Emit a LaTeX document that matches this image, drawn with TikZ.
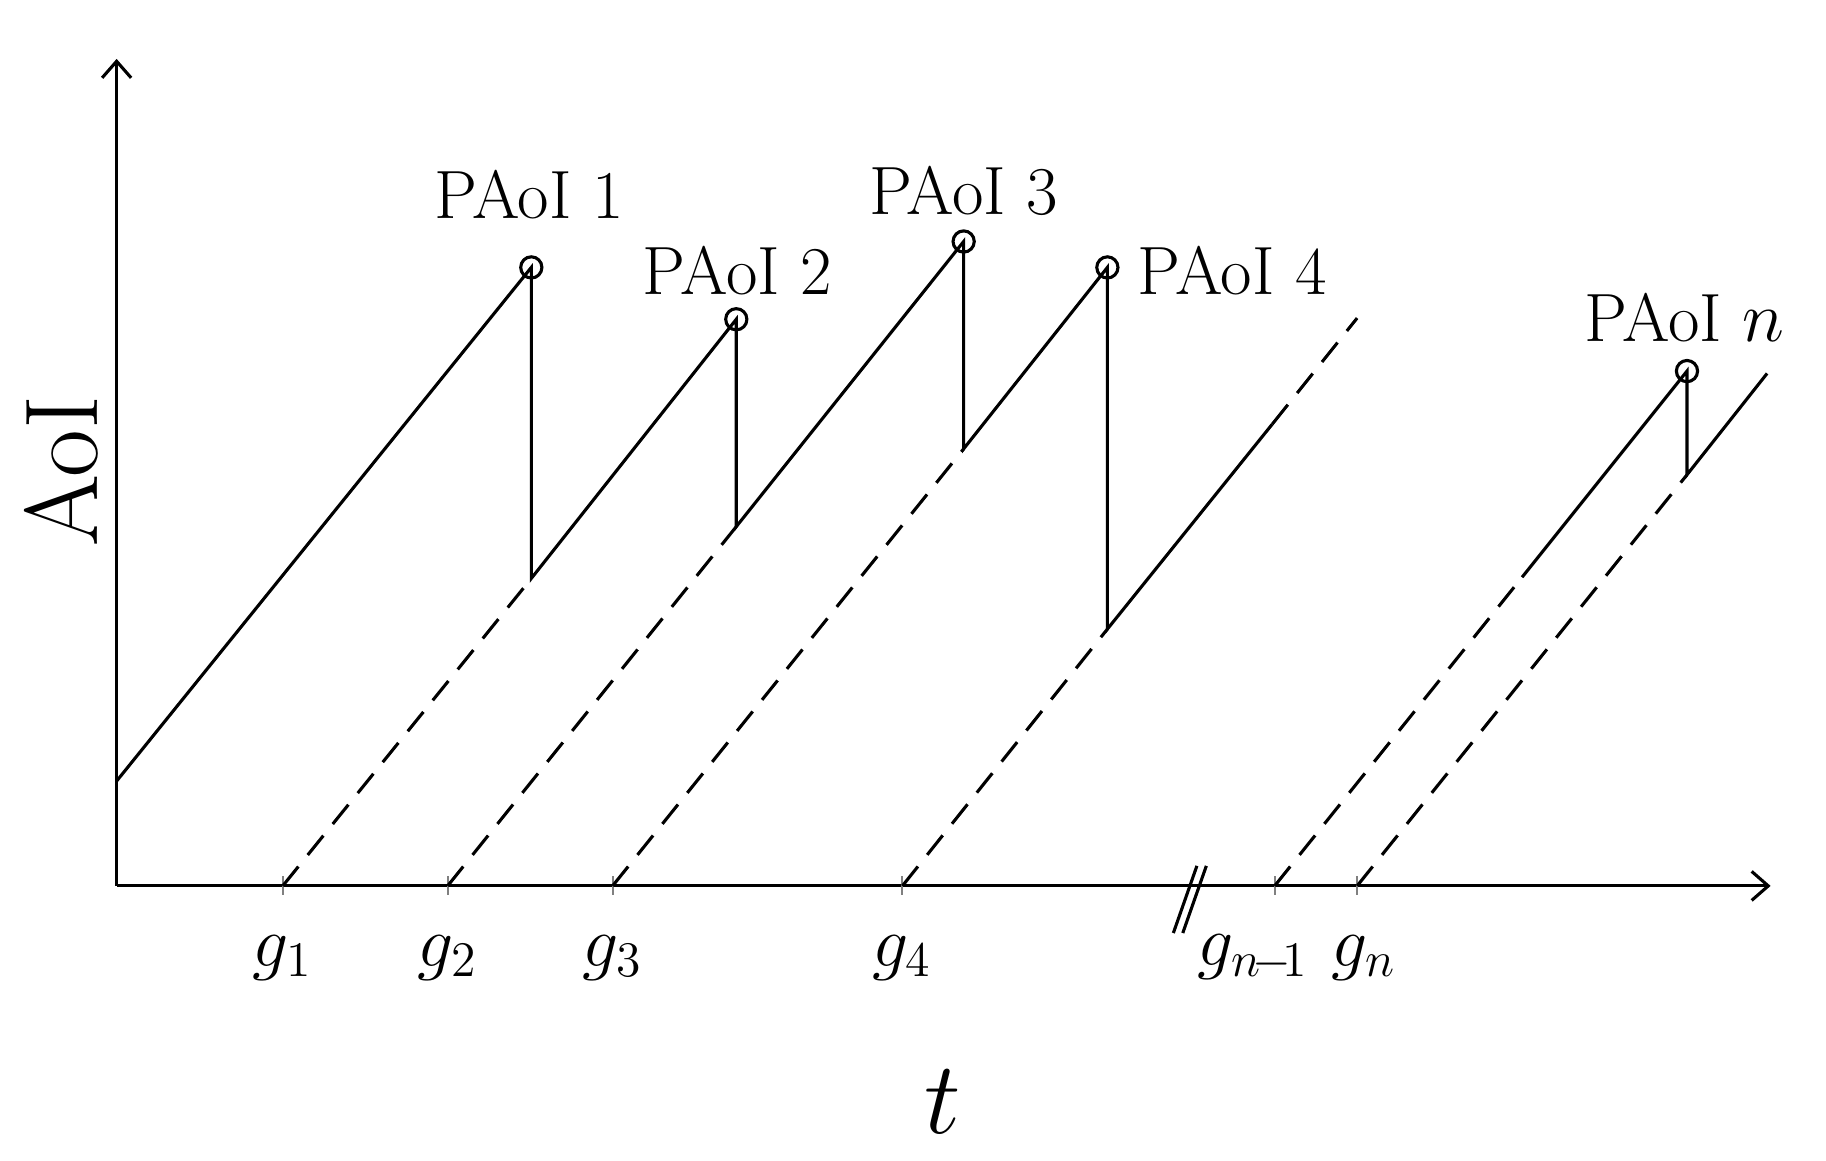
\documentclass[tikz,border=0pt]{standalone}
\usetikzlibrary{arrows.meta}
\begin{document}
\begin{tikzpicture}[x=0.01cm,y=-0.01cm,
  ln/.style={line width=0.75pt},
  dsh/.style={line width=0.75pt,dash pattern=on 6pt off 3.6pt},
  pk/.style={circle,draw,line width=0.75pt,minimum size=0.18cm,inner sep=0pt},
  lab/.style={font=\fontsize{16.5}{20}\selectfont},
  glab/.style={font=\fontsize{16.5}{20}\selectfont,inner sep=0.5pt},
  tk/.style={draw=gray,line width=0.5pt}]
\useasboundingbox (0,0) rectangle (1550,985);
% axes
\coordinate (O) at (99,752);
\coordinate (Ytop) at (99,50);
\coordinate (Xend) at (1503,752);
\draw[ln,-{Straight Barb[length=4pt,width=7pt]}] (O) -- (Ytop);
\draw[ln,-{Straight Barb[length=4pt,width=7pt]}] (O) -- (Xend);
\node[rotate=90,font=\fontsize{25}{28}\selectfont] (aoi) at (52,400) {AoI};
\node[font=\fontsize{25}{28}\selectfont\itshape] (t) at (800,935) {$t$};
% ticks and labels
\foreach \x/\l/\n/\lx in {240/1/g1/240,380/2/g2/380,520/3/g3/520,766/4/g4/766,1082/{n\!-\!1}/gm/1064,1152/n/gn/1158}{
  \coordinate (\n) at (\x,752);
  \draw[tk] (\x,744) -- (\x,760);
  \node[glab] at (\lx,813) {$g_{\l}$};
}
% break
\draw[ln] (996,792) -- (1016,735);
\draw[ln] (1004,792) -- (1024,735);
% peaks
\node[pk] (p1) at (451,227) {};
\node[pk] (p2) at (625,271) {};
\node[pk] (p3) at (818,205) {};
\node[pk] (p4) at (940,227) {};
\node[pk] (pn) at (1432,315) {};
\coordinate (s0) at (99,663);
\coordinate (b1) at (451,491);
\coordinate (b2) at (625,447);
\coordinate (b3) at (818,381);
\coordinate (b4) at (940,534);
\coordinate (bn) at (1432,403);
\coordinate (m4) at (1080,360);
\coordinate (e4) at (1152,270);
\coordinate (mn) at (1292,490);
\coordinate (en) at (1500,317);
% solid ramps
\draw[ln] (s0) -- (p1.center) -- (b1) -- (p2.center) -- (b2) -- (p3.center) -- (b3) -- (p4.center) -- (b4) -- (m4);
\draw[ln] (mn) -- (pn.center) -- (bn) -- (en);
% dashed
\draw[dsh] (g1) -- (b1);
\draw[dsh] (g2) -- (b2);
\draw[dsh] (g3) -- (b3);
\draw[dsh] (g4) -- (b4);
\draw[dsh] (m4) -- (e4);
\draw[dsh] (gm) -- (mn);
\draw[dsh] (gn) -- (bn);
% labels
\node[lab] (l1) at (449,165) {PAoI 1};
\node[lab] (l2) at (626,230) {PAoI 2};
\node[lab] (l3) at (818,162) {PAoI 3};
\node[lab] (l4) at (1046,230) {PAoI 4};
\node[lab] (ln) at (1430,270) {PAoI $n$};
\end{tikzpicture}
\end{document}
